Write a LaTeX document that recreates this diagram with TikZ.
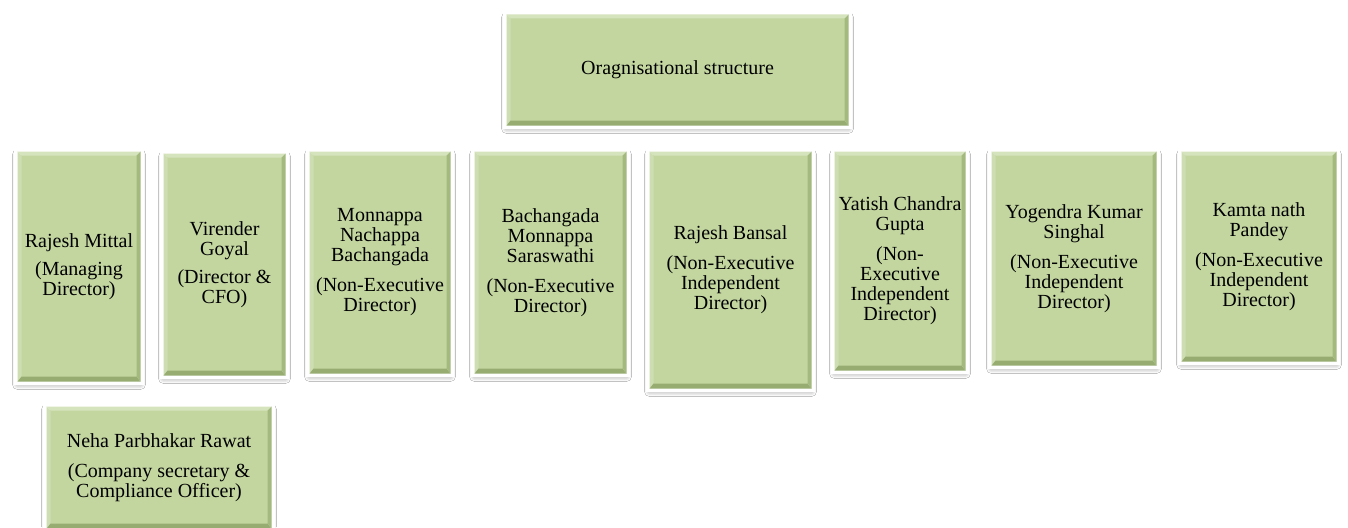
\documentclass[tikz,border=0pt]{standalone}
\usepackage{fontspec}
\setmainfont{Liberation Serif}
\usetikzlibrary{shadows.blur}

\definecolor{boxgreen}{RGB}{195,214,160}
\definecolor{bevdark}{RGB}{150,172,112}
\definecolor{bevlight}{RGB}{214,228,190}

\tikzset{
  member/.style={rectangle, fill=boxgreen, draw=white, line width=7pt,
    align=center, inner sep=0pt, text=black,
    font=\fontsize{20}{20}\selectfont,
    blur shadow={shadow xshift=0pt, shadow yshift=-3pt,
      shadow blur radius=5pt, shadow opacity=45}},
}

\begin{document}
\begin{tikzpicture}[x=1pt,y=-1pt]
\fill[white] (0,0) rectangle (1348,527);
\useasboundingbox (0,0) rectangle (1348,527);

% title box
\node[member, minimum width=342pt, minimum height=111pt] (org) at (677.5,70) {Oragnisational structure};

% board members
\node[member, minimum width=123pt, minimum height=230pt] (mittal) at (79,266.5)
  {Rajesh Mittal\\[8pt](Managing\\Director)};
\node[member, minimum width=122pt, minimum height=222pt] (goyal) at (224.5,264.5)
  {Virender\\Goyal\\[8pt](Director \&\\CFO)};
\node[member, minimum width=141pt, minimum height=222pt] (monnappa) at (380,262.5)
  {Monnappa\\Nachappa\\Bachangada\\[10pt](Non-Executive\\Director)};
\node[member, minimum width=152pt, minimum height=222pt] (saraswathi) at (550.5,262.5)
  {Bachangada\\Monnappa\\Saraswathi\\[10pt](Non-Executive\\Director)};
\node[member, minimum width=162pt, minimum height=237pt] (bansal) at (730.5,270)
  {Rajesh Bansal\\[10pt](Non-Executive\\Independent\\Director)};
\node[member, minimum width=131pt, minimum height=219pt] (gupta) at (900,261)
  {Yatish Chandra\\Gupta\\[10pt](Non-\\Executive\\Independent\\Director)};
\node[member, minimum width=165pt, minimum height=214pt] (singhal) at (1074,258.5)
  {Yogendra Kumar\\Singhal\\[10pt](Non-Executive\\Independent\\Director)};
\node[member, minimum width=155pt, minimum height=210pt] (pandey) at (1259,256.5)
  {Kamta nath\\Pandey\\[10pt](Non-Executive\\Independent\\Director)};

% secretary
\node[member, minimum width=225pt, minimum height=122pt] (rawat) at (159,467.5)
  {Neha Parbhakar Rawat\\[10pt](Company secretary \&\\Compliance Officer)};

% bevelled edges of the green faces
\foreach \n in {org,mittal,goyal,monnappa,saraswathi,bansal,gupta,singhal,pandey,rawat}{
  \fill[bevlight] ([shift={(3.5pt,-3.5pt)}]\n.north west) -- ([shift={(-3.5pt,-3.5pt)}]\n.north east)
    -- ([shift={(-7.5pt,-7.5pt)}]\n.north east) -- ([shift={(7.5pt,-7.5pt)}]\n.north west) -- cycle;
  \fill[bevlight!60!boxgreen] ([shift={(3.5pt,-3.5pt)}]\n.north west) -- ([shift={(3.5pt,3.5pt)}]\n.south west)
    -- ([shift={(7.5pt,8.5pt)}]\n.south west) -- ([shift={(7.5pt,-7.5pt)}]\n.north west) -- cycle;
  \fill[bevdark!70!boxgreen] ([shift={(-3.5pt,-3.5pt)}]\n.north east) -- ([shift={(-3.5pt,3.5pt)}]\n.south east)
    -- ([shift={(-7.5pt,8.5pt)}]\n.south east) -- ([shift={(-7.5pt,-7.5pt)}]\n.north east) -- cycle;
  \fill[bevdark] ([shift={(3.5pt,3.5pt)}]\n.south west) -- ([shift={(-3.5pt,3.5pt)}]\n.south east)
    -- ([shift={(-7.5pt,8.5pt)}]\n.south east) -- ([shift={(7.5pt,8.5pt)}]\n.south west) -- cycle;
}
\end{tikzpicture}
\end{document}
